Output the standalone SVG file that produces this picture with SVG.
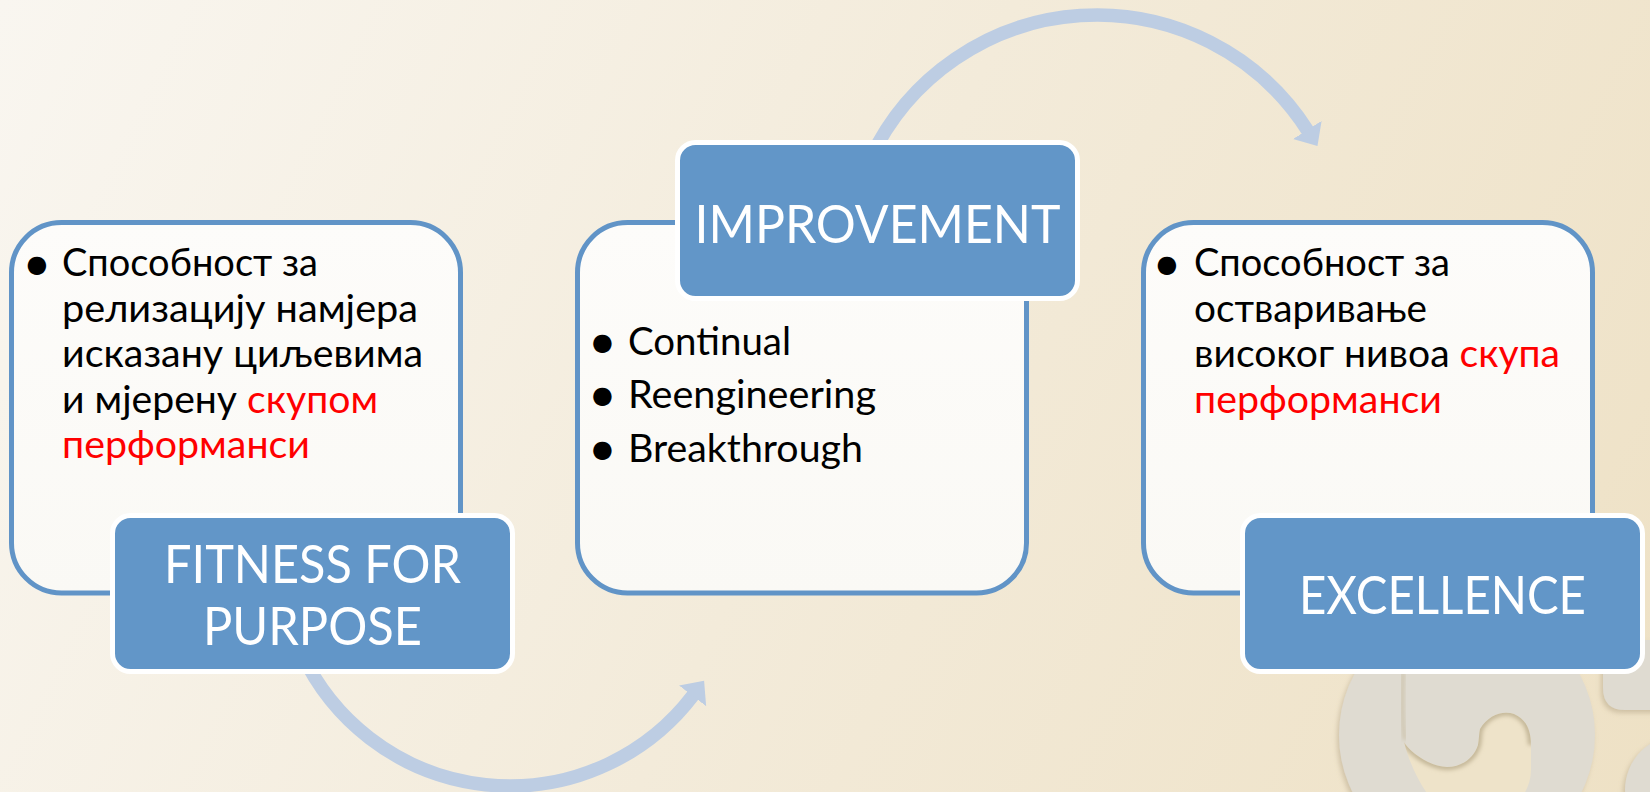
<svg xmlns="http://www.w3.org/2000/svg" width="1650" height="792" viewBox="0 0 1650 792">
<defs>
  <linearGradient id="bg" gradientUnits="userSpaceOnUse" x1="0" y1="0" x2="1650" y2="792">
    <stop offset="0" stop-color="#f9f6f0"/>
    <stop offset="0.5" stop-color="#f3ebda"/>
    <stop offset="1" stop-color="#eee1c5"/>
  </linearGradient>
  <linearGradient id="panelFill" x1="0" y1="0" x2="0" y2="1">
    <stop offset="0" stop-color="#fdfcfa"/>
    <stop offset="1" stop-color="#faf9f5"/>
  </linearGradient>
  <filter id="soft" x="-20%" y="-20%" width="140%" height="140%">
    <feDropShadow dx="-2" dy="3" stdDeviation="2.5" flood-color="#a89878" flood-opacity="0.45"/>
  </filter>
  <filter id="blur2" x="-20%" y="-20%" width="140%" height="140%">
    <feGaussianBlur stdDeviation="2"/>
  </filter>
  <clipPath id="channelClip">
    <path id="channelShape" d="M1480,729 C1488,715 1503,710 1514,714 C1526,719 1531,730 1531,745 L1531,770 C1531,782 1526,792 1520,800 L1432,800 C1420,785 1410,765 1404,742 C1410,752 1428,766 1447,767 C1462,767 1474,758 1478,745 C1479,739 1479,733 1480,729 Z"/>
  </clipPath>
  <marker id="head" markerUnits="userSpaceOnUse" markerWidth="20" markerHeight="34" viewBox="0 -17 20 34" refX="1" refY="0" orient="auto">
    <path d="M0,-17 L19,0 L0,17 Z" fill="#bdcde3"/>
  </marker>
  <style>
    .panel{fill:url(#panelFill);stroke:#6194c7;stroke-width:5}
    .label{fill:#6296c8;stroke:#ffffff;stroke-width:5}
    .title{font-family:Lato,'Noto Sans','Open Sans',sans-serif;font-size:52px;fill:#ffffff;text-anchor:middle}
    .body{font-family:Lato,'Noto Sans','Open Sans',sans-serif;font-size:38px;fill:#000000}
    .red{fill:#ff0000}
    .bullet{font-family:'DejaVu Sans',sans-serif;font-size:24px;fill:#000000;text-anchor:middle}
    .arc{fill:none;stroke:#bdcde3;stroke-width:13.5;marker-end:url(#head)}
    .swirl{fill:#dfdbd1}
  </style>
</defs>

<rect x="0" y="0" width="1650" height="792" fill="url(#bg)"/>

<g id="decoration">
  <g filter="url(#soft)">
    <circle class="swirl" cx="1467" cy="735" r="128"/>
    <path class="swirl" d="M1603,640 L1603,688 Q1603,710 1625,710 L1660,710 L1660,640 Z"/>
    <circle class="swirl" cx="1680" cy="790" r="55"/>
  </g>
  <use href="#channelShape" fill="#eee3c9"/>
  <g clip-path="url(#channelClip)">
    <path d="M1404,742 C1410,752 1428,766 1447,767 C1462,767 1474,758 1478,745 C1479,739 1479,733 1480,729 C1488,715 1503,710 1514,714 C1526,719 1531,730 1531,745" fill="none" stroke="#c2b596" stroke-width="6" filter="url(#blur2)"/>
  </g>
  <path d="M1403,672 C1402,700 1402,725 1405,740" fill="none" stroke="#c9bea4" stroke-width="3" filter="url(#blur2)"/>
</g>

<g id="connectors">
  <path id="arc-top" class="arc" d="M869.9,159.5 A250.3,250.3 0 0 1 1307.8,130.8"/>
  <path id="arc-bottom" class="arc" d="M301.6,653.2 A230,230 0 0 0 693.2,695.1"/>
</g>

<g id="node-fitness">
  <rect class="panel" x="11.5" y="222.5" width="449" height="370.5" rx="50"/>
  <text class="bullet" x="37" y="272">●</text>
  <text class="body" x="62" y="276" textLength="256" lengthAdjust="spacingAndGlyphs">Способност за</text>
  <text class="body" x="62" y="321.5" textLength="356" lengthAdjust="spacingAndGlyphs">релизацију намјера</text>
  <text class="body" x="62" y="367" textLength="361" lengthAdjust="spacingAndGlyphs">исказану циљевима</text>
  <text class="body" x="62" y="412.5" textLength="316" lengthAdjust="spacingAndGlyphs">и мјерену <tspan class="red">скупом</tspan></text>
  <text class="body red" x="62" y="458" textLength="248" lengthAdjust="spacingAndGlyphs">перформанси</text>
  <rect class="label" x="112.5" y="515.5" width="400" height="156" rx="18"/>
  <text class="title" x="312.5" y="583" textLength="297" lengthAdjust="spacingAndGlyphs">FITNESS FOR</text>
  <text class="title" x="312.5" y="645" textLength="219" lengthAdjust="spacingAndGlyphs">PURPOSE</text>
</g>

<g id="node-improvement">
  <rect class="panel" x="577.5" y="222.5" width="449" height="370.5" rx="50"/>
  <rect class="label" x="677.5" y="142.5" width="400" height="156" rx="18"/>
  <text class="title" x="877.5" y="243" textLength="366" lengthAdjust="spacingAndGlyphs">IMPROVEMENT</text>
  <text class="bullet" x="602.5" y="350">●</text>
  <text class="body" x="628" y="355" textLength="163" lengthAdjust="spacingAndGlyphs">Continual</text>
  <text class="bullet" x="602.5" y="403">●</text>
  <text class="body" x="628" y="408" textLength="248" lengthAdjust="spacingAndGlyphs">Reengineering</text>
  <text class="bullet" x="602.5" y="457">●</text>
  <text class="body" x="628" y="462" textLength="235" lengthAdjust="spacingAndGlyphs">Breakthrough</text>
</g>

<g id="node-excellence">
  <rect class="panel" x="1143.5" y="222.5" width="449" height="370.5" rx="50"/>
  <text class="bullet" x="1167" y="272">●</text>
  <text class="body" x="1194" y="276" textLength="256" lengthAdjust="spacingAndGlyphs">Способност за</text>
  <text class="body" x="1194" y="321.5" textLength="233" lengthAdjust="spacingAndGlyphs">остваривање</text>
  <text class="body" x="1194" y="367" textLength="366" lengthAdjust="spacingAndGlyphs">високог нивоа <tspan class="red">скупа</tspan></text>
  <text class="body red" x="1194" y="412.5" textLength="248" lengthAdjust="spacingAndGlyphs">перформанси</text>
  <rect class="label" x="1242.5" y="515.5" width="400" height="156" rx="18"/>
  <text class="title" x="1442.5" y="614" textLength="287" lengthAdjust="spacingAndGlyphs">EXCELLENCE</text>
</g>
</svg>
